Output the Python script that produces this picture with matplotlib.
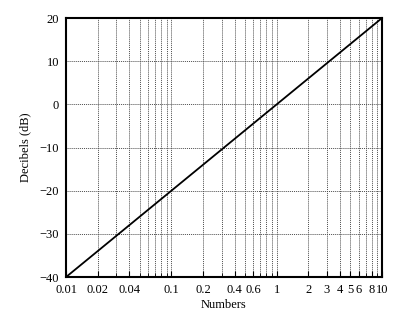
import matplotlib
matplotlib.use("Agg")
import matplotlib.pyplot as plt
from matplotlib.ticker import FixedLocator, FixedFormatter, NullFormatter

plt.rcParams['font.family'] = ['Liberation Serif', 'DejaVu Serif']

# data
numbers = [0.01, 0.1, 1, 10]
decibels = [-40, -20, 0, 20]

tick_vals = [0.01, 0.02, 0.04, 0.1, 0.2, 0.4, 0.6, 1, 2, 3, 4, 5, 6, 8, 10]
tick_labels = ['0.01', '0.02', '0.04', '0.1', '0.2', '0.4', '0.6', '1',
               '2', '3', '4', '5', '6', '8', '10']
grid_vals = [m * 10.0 ** e for e in (-2, -1, 0) for m in range(1, 10)] + [10]
y_ticks = [-40, -30, -20, -10, 0, 10, 20]

fig = plt.figure(figsize=(3.93, 3.17), dpi=100)
ax = fig.add_axes([0.168, 0.126, 0.804, 0.817])

ax.plot(numbers, decibels, color='black', lw=1.3)
ax.set_xscale('log')
ax.set_xlim(0.01, 10)
ax.set_ylim(-40, 20)

ax.xaxis.set_major_locator(FixedLocator(tick_vals))
ax.xaxis.set_major_formatter(FixedFormatter(tick_labels))
ax.xaxis.set_minor_locator(FixedLocator(grid_vals))
ax.xaxis.set_minor_formatter(NullFormatter())
ax.set_yticks(y_ticks)
ax.set_yticklabels(['\u221240', '\u221230', '\u221220', '\u221210', '0', '10', '20'])

for x in grid_vals:
    ax.axvline(x, color='0.3', lw=0.7, ls=(0, (1, 1)), zorder=0)
for y in y_ticks[1:-1]:
    ax.axhline(y, color='0.3', lw=0.7, ls=(0, (1, 1)), zorder=0)

ax.tick_params(axis='both', which='major', direction='in', length=4, width=0.8,
               labelsize=9, pad=5)
ax.tick_params(axis='x', which='minor', direction='in', length=3, width=0.6)
ax.tick_params(axis='y', which='major', length=0)
for s in ax.spines.values():
    s.set_linewidth(1.5)

ax.set_xlabel('Numbers', fontsize=9, labelpad=2)
ax.set_ylabel('Decibels (dB)', fontsize=9, labelpad=6)

fig.savefig('out.png', dpi=100)
